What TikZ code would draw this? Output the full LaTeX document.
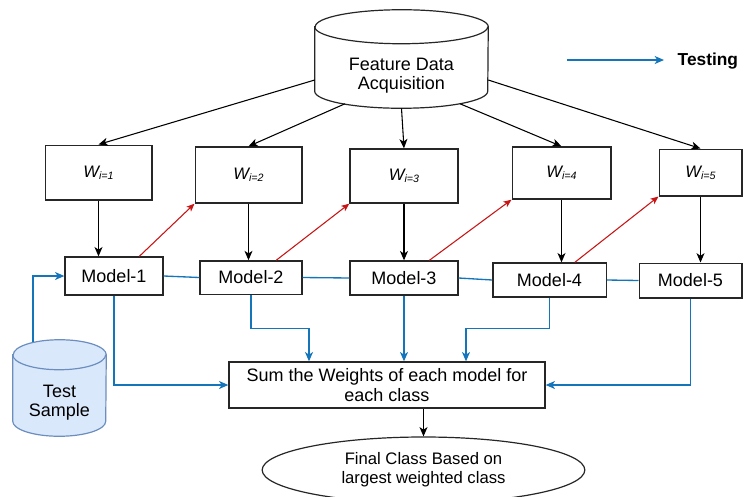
\documentclass[tikz,border=0pt]{standalone}
\usepackage{fontspec}
\setmainfont{Liberation Sans}
\usetikzlibrary{shapes.geometric, arrows.meta, positioning, calc, backgrounds}

\definecolor{testblue}{RGB}{20,117,186}
\definecolor{updred}{RGB}{200,20,20}
\definecolor{dbfill}{RGB}{218,232,252}
\definecolor{dbdraw}{RGB}{108,142,191}

\newcommand{\wlab}[1]{{\fontsize{12.5}{14}\selectfont\itshape W\raisebox{-1.5pt}{\fontsize{8}{9}\selectfont #1}}}

\begin{document}
\begin{tikzpicture}[
  x=0.75pt, y=-0.75pt,
  every node/.style={font=\fontsize{13.5}{14.5}\selectfont},
  box/.style={rectangle, draw=black!85, line width=1pt, fill=white, align=center, inner sep=0pt},
  dbtext/.style={rectangle, align=center, inner sep=0pt},
  dbline/.style={draw=black!85, line width=0.9pt},
  arr/.style={-{Stealth[length=7pt, width=6pt, inset=2pt]}, line width=0.8pt},
  test/.style={testblue, line width=1pt},
  tarr/.style={test, -{Stealth[length=7pt, width=6pt, inset=2pt]}},
  upd/.style={updred, line width=0.8pt, -{Stealth[length=6pt, width=5pt, inset=1.5pt]}},
]
\useasboundingbox (0,0) rectangle (744,497);

% Data stores (body part, text)
\node[dbtext, minimum width=129.75pt, minimum height=48pt] (fda) at (401.5,76) {Feature Data\\Acquisition};
\node[dbtext, minimum width=69.75pt, minimum height=49.5pt] (ts) at (59.5,403) {Test\\Sample};

% Data stores (outline)
\begin{scope}[on background layer]
  \filldraw[dbline, fill=white] ($(fda.north west)+(0,-17)$) -- ($(fda.south west)+(0,-17)$)
    arc[start angle=180, end angle=360, x radius=64.875pt, y radius=12.75pt]
    -- ($(fda.north east)+(0,-17)$)
    arc[start angle=0, end angle=180, x radius=64.875pt, y radius=12.75pt] -- cycle;
  \draw[dbline] ($(fda.north west)+(0,-17)$) arc[start angle=180, end angle=360, x radius=64.875pt, y radius=12.75pt];
  \filldraw[dbline, draw=dbdraw, fill=dbfill] ($(ts.north west)+(0,-15)$) -- ($(ts.south west)+(0,-15)$)
    arc[start angle=180, end angle=360, x radius=34.875pt, y radius=11.25pt]
    -- ($(ts.north east)+(0,-15)$)
    arc[start angle=0, end angle=180, x radius=34.875pt, y radius=11.25pt] -- cycle;
  \draw[dbline, draw=dbdraw] ($(ts.north west)+(0,-15)$) arc[start angle=180, end angle=360, x radius=34.875pt, y radius=11.25pt];
\end{scope}

% Legend
\coordinate (lgs) at (567,60);
\coordinate (lge) at (664,60);
\node[anchor=west, font=\bfseries\fontsize{13}{15}\selectfont] (lgt) at (673,61) {Testing};
\draw[tarr] (lgs) -- (lge);

% Weight boxes
\node[box, minimum width=80pt, minimum height=41pt] (w1) at (98.5,172.5) {\wlab{i=1}};
\node[box, minimum width=80pt, minimum height=42pt] (w2) at (248.5,175) {\wlab{i=2}};
\node[box, minimum width=81pt, minimum height=40.5pt] (w3) at (404,176) {\wlab{i=3}};
\node[box, minimum width=74pt, minimum height=39pt] (w4) at (561.5,173) {\wlab{i=4}};
\node[box, minimum width=62pt, minimum height=35pt] (w5) at (700.5,172.5) {\wlab{i=5}};

% Model boxes
\node[box, minimum width=73.5pt, minimum height=28.5pt] (m1) at (114,276) {Model-1};
\node[box, minimum width=76.5pt, minimum height=25pt] (m2) at (251,277.5) {Model-2};
\node[box, minimum width=81pt, minimum height=25.5pt] (m3) at (404,278) {Model-3};
\node[box, minimum width=85pt, minimum height=25.5pt] (m4) at (549.5,280) {Model-4};
\node[box, minimum width=77pt, minimum height=26pt] (m5) at (690.5,280.5) {Model-5};

% Sum and final class
\node[box, minimum width=237pt, minimum height=34.5pt] (sum) at (387,385) {Sum the Weights of each model for\\each class};
\node[ellipse, draw=black!85, line width=0.9pt, minimum width=242pt, minimum height=49.5pt, inner sep=0pt, align=center,
  font=\fontsize{12.5}{14}\selectfont] (final) at (423.5,470) {Final Class Based on\\largest weighted class};

% Feature data to weights
\draw[arr] ($(fda.west)+(0,4)$) -- (w1.north);
\draw[arr] ($(fda.south)+(-56.5,-4.5)$) -- (w2.north);
\draw[arr] (fda.south) -- (w3.north);
\draw[arr] ($(fda.south)+(58.5,-4.5)$) -- (w4.north);
\draw[arr] ($(fda.east)+(0,4)$) -- (w5.north);

% Weights to models
\foreach \i in {1,...,5}
  \draw[arr] (w\i.south) -- (w\i.south |- m\i.north);

% Model to next weight
\foreach \i/\j in {1/2,2/3,3/4,4/5}
  \draw[upd] ([xshift=19pt]m\i.north) -- (w\j.south west);

% Model chain
\foreach \i/\j in {1/2,2/3,3/4,4/5}
  \draw[test] (m\i.east) -- (m\j.west);

% Test sample
\draw[tarr] ($(ts.north)+(-26.5,-27.3)$) |- (m1.west);

% Models to sum
\coordinate (j2) at ($(sum.north)+(-78,-33)$);
\coordinate (j4) at ($(sum.north)+(79,-33)$);
\draw[tarr] (m1.south) |- (sum.west);
\draw[tarr] (m2.south) |- (j2) -- (j2 |- sum.north);
\draw[tarr] (m3.south) -- (m3.south |- sum.north);
\draw[tarr] (m4.south) |- (j4) -- (j4 |- sum.north);
\draw[tarr] (m5.south) |- (sum.east);

% Sum to final
\draw[arr] (final.north |- sum.south) -- (final.north);

\end{tikzpicture}
\end{document}
